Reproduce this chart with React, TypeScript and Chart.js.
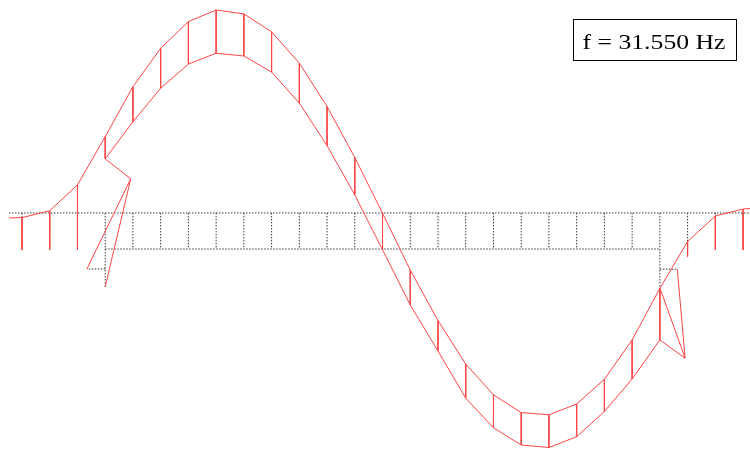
import React, { useEffect, useRef } from "react";
import { Chart, registerables } from "chart.js";

Chart.register(...registerables);

// Deck stations (one unit = one panel length)
const deckNodes = [0, 1, 2, 3, 4, 5, 6, 7, 8, 9, 10, 11, 12, 13, 14, 15, 16, 17, 18, 19, 20, 21, 22, 23, 24, 25, 26];
const deckEnds = [-0.47, 26.47];

// Undeformed geometry levels
const deckLevel = 0;
const bottomChordLevel = -1.3;
const columnBaseLevel = -1.33;
const pierNodes = [3, 23];
const pierBaseLevels = [-2.67, -2.7];
const braceLevels = [-2.02, -2.03];
const braceEnds = [2.34, 23.63];

// Mode shape: deformed deck (top chord) level at each node
const deckShape = [
  -0.17, 0.08, 1.01, 2.75, 4.55, 5.94, 6.9, 7.32, 7.18, 6.53, 5.4, 3.84, 2.0, -0.01,
  -2.06, -3.88, -5.45, -6.56, -7.2, -7.28, -6.89, -6.0, -4.58, -2.72, -1.03, -0.11, 0.14,
];
const deckEndShape = [-0.18, 0.18];

// Mode shape: deformed bottom chord, nodes 3..23
const bottomChordNodes = [3, 4, 5, 6, 7, 8, 9, 10, 11, 12, 13, 14, 15, 16, 17, 18, 19, 20, 21, 22, 23];
const bottomChordShape = [
  1.95, 3.29, 4.5, 5.37, 5.76, 5.66, 5.08, 3.96, 2.43, 0.65, -1.33, -3.32, -4.98, -6.68,
  -7.75, -8.37, -8.46, -8.07, -7.16, -5.99, -4.58,
];

// Outer columns under the deck
const columnNodes = [0, 1, 2, 24, 25, 26];
const columnBaseShape = [-1.33, -1.33, -1.33, -1.58, -1.33, -1.33];

// Deformed pier joints (where the brace meets the pier)
const pierJointX = [3.92, 23.91];
const pierJointY = [1.23, -5.24];

const frequencyLabel = "f = 31.550 Hz";

type Pt = { x: number; y: number | null };

const gap = (x: number): Pt => ({ x, y: null });

function buildDeformed() {
  const deck: Pt[] = [
    { x: deckEnds[0], y: deckEndShape[0] },
    ...deckNodes.map((n, i) => ({ x: n, y: deckShape[i] })),
    { x: deckEnds[1], y: deckEndShape[1] },
  ];
  const bottom: Pt[] = bottomChordNodes.map((n, i) => ({ x: n, y: bottomChordShape[i] }));
  const verticals: Pt[] = [];
  bottomChordNodes.forEach((n, i) => {
    verticals.push({ x: n, y: deckShape[n] }, { x: n, y: bottomChordShape[i] }, gap(n));
  });
  columnNodes.forEach((n, i) => {
    verticals.push({ x: n, y: deckShape[n] }, { x: n, y: columnBaseShape[i] }, gap(n));
  });
  const piers: Pt[] = [];
  pierNodes.forEach((n, k) => {
    const bi = bottomChordNodes.indexOf(n);
    piers.push(
      { x: n, y: bottomChordShape[bi] },
      { x: pierJointX[k], y: pierJointY[k] },
      { x: n, y: pierBaseLevels[k] },
      gap(n),
      { x: pierJointX[k], y: pierJointY[k] },
      { x: braceEnds[k], y: braceLevels[k] },
      gap(n)
    );
  });
  return { deck, bottom, verticals, piers };
}

function buildUndeformed() {
  const lines: Pt[] = [
    { x: deckEnds[0], y: deckLevel },
    { x: deckEnds[1], y: deckLevel },
    gap(0),
    { x: bottomChordNodes[0], y: bottomChordLevel },
    { x: bottomChordNodes[bottomChordNodes.length - 1], y: bottomChordLevel },
    gap(0),
  ];
  bottomChordNodes.forEach((n) => {
    lines.push({ x: n, y: deckLevel }, { x: n, y: bottomChordLevel }, gap(n));
  });
  columnNodes.forEach((n) => {
    lines.push({ x: n, y: deckLevel }, { x: n, y: columnBaseLevel }, gap(n));
  });
  pierNodes.forEach((n, k) => {
    lines.push({ x: n, y: bottomChordLevel }, { x: n, y: pierBaseLevels[k] }, gap(n));
    lines.push({ x: n, y: braceLevels[k] }, { x: braceEnds[k], y: braceLevels[k] }, gap(n));
  });
  return lines;
}

const labelBox = {
  id: "labelBox",
  afterDraw(chart: Chart) {
    const { ctx } = chart;
    ctx.save();
    ctx.fillStyle = "#ffffff";
    ctx.fillRect(573, 19, 163, 42);
    ctx.strokeStyle = "#000000";
    ctx.lineWidth = 1;
    ctx.strokeRect(573.5, 19.5, 163, 41);
    ctx.font = '22px "Liberation Serif", "Times New Roman", serif';
    const w = ctx.measureText(frequencyLabel).width;
    ctx.translate(654, 48.5);
    ctx.scale(143 / w, 1);
    ctx.textAlign = "center";
    ctx.textBaseline = "alphabetic";
    ctx.fillStyle = "#000000";
    ctx.fillText(frequencyLabel, 0, 0);
    ctx.restore();
  },
};

export default function App() {
  const canvasRef = useRef<HTMLCanvasElement | null>(null);

  useEffect(() => {
    if (!canvasRef.current) return;
    const def = buildDeformed();
    const undeformed = buildUndeformed();
    const red = "#ff4545";
    const lineStyle = {
      showLine: true,
      pointRadius: 0,
      pointHoverRadius: 0,
      borderWidth: 1,
      spanGaps: false,
      fill: false,
      tension: 0,
    };
    const chart = new Chart(canvasRef.current, {
      type: "scatter",
      data: {
        datasets: [
          { ...lineStyle, label: "deck", data: def.deck, borderColor: red, order: 0 },
          { ...lineStyle, label: "bottom chord", data: def.bottom, borderColor: red, order: 0 },
          { ...lineStyle, label: "verticals", data: def.verticals, borderColor: red, order: 0 },
          { ...lineStyle, label: "piers", data: def.piers, borderColor: red, order: 0 },
          {
            ...lineStyle,
            label: "undeformed",
            data: undeformed,
            borderColor: "#3a3a3a",
            borderDash: [1.5, 1.5],
            order: 1,
          },
        ] as any,
      },
      options: {
        responsive: false,
        devicePixelRatio: 1,
        animation: false,
        events: [],
        layout: { padding: 0 },
        plugins: {
          legend: { display: false },
          tooltip: { enabled: false },
          title: { display: false },
        },
        scales: {
          x: { type: "linear", display: false, min: -0.793, max: 26.25 },
          y: { type: "linear", display: false, min: -8.55, max: 7.68 },
        },
      },
      plugins: [labelBox],
    });
    return () => chart.destroy();
  }, []);

  return (
    <div style={{ position: "absolute", left: 0, top: 0, width: 750, height: 450, background: "#fff" }}>
      <canvas ref={canvasRef} width={750} height={450} style={{ display: "block" }} />
    </div>
  );
}
